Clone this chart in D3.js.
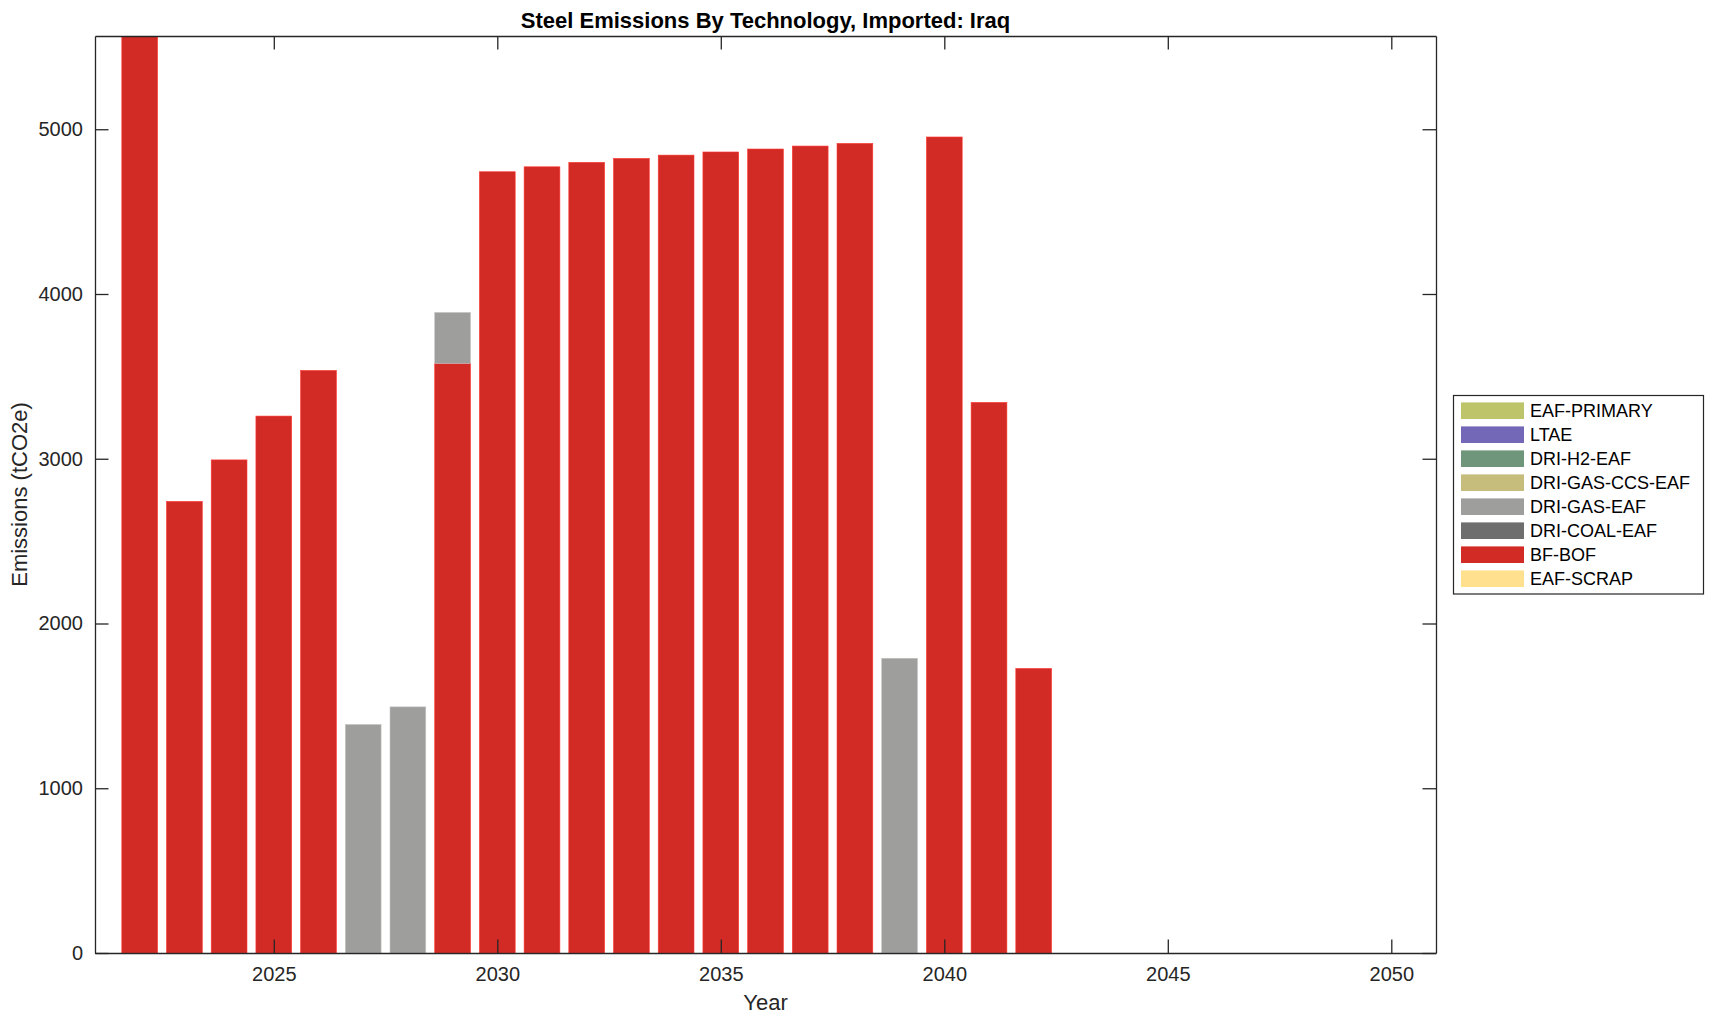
<!DOCTYPE html>
<html>
<head>
<meta charset="utf-8">
<script src="https://cdn.jsdelivr.net/npm/d3@7/dist/d3.min.js"></script>
<style>
  html, body { margin: 0; padding: 0; background: #fff; }
  svg { display: block; font-family: "Liberation Sans", Arial, Helvetica, sans-serif; }
</style>
</head>
<body>
<svg id="chart" width="1714" height="1021"></svg>
<script>
// ---- Data ----
const years = [2022,2023,2024,2025,2026,2027,2028,2029,2030,2031,2032,2033,2034,2035,2036,2037,2038,2039,2040,2041,2042,2043,2044,2045,2046,2047,2048,2049,2050];
const eafScrap   = [0,0,0,0,0,0,0,0,0,0,0,0,0,0,0,0,0,0,0,0,0,0,0,0,0,0,0,0,0];
const bfBof      = [5566,2741,2993,3259,3536,0,0,3579,4742,4772,4799,4823,4843,4862,4880,4898,4914,0,4953,3342,1727,0,0,0,0,0,0,0,0];
const driCoalEaf = [0,0,0,0,0,0,0,0,0,0,0,0,0,0,0,0,0,0,0,0,0,0,0,0,0,0,0,0,0];
const driGasEaf  = [0,0,0,0,0,1387,1494,309,0,0,0,0,0,0,0,0,0,1789,0,0,0,0,0,0,0,0,0,0,0];
const driGasCcsEaf = [0,0,0,0,0,0,0,0,0,0,0,0,0,0,0,0,0,0,0,0,0,0,0,0,0,0,0,0,0];
const driH2Eaf   = [0,0,0,0,0,0,0,0,0,0,0,0,0,0,0,0,0,0,0,0,0,0,0,0,0,0,0,0,0];
const ltae       = [0,0,0,0,0,0,0,0,0,0,0,0,0,0,0,0,0,0,0,0,0,0,0,0,0,0,0,0,0];
const eafPrimary = [0,0,0,0,0,0,0,0,0,0,0,0,0,0,0,0,0,0,0,0,0,0,0,0,0,0,0,0,0];

// stacking order bottom -> top
const seriesNames  = ["EAF-SCRAP","BF-BOF","DRI-COAL-EAF","DRI-GAS-EAF","DRI-GAS-CCS-EAF","DRI-H2-EAF","LTAE","EAF-PRIMARY"];
const seriesValues = [eafScrap, bfBof, driCoalEaf, driGasEaf, driGasCcsEaf, driH2Eaf, ltae, eafPrimary];
const seriesColors = ["#FEE08E","#D22B26","#6E6E6E","#9E9E9C","#C6BC7C","#6F967A","#7368B8","#BDC46A"];

const xTicks = [2025,2030,2035,2040,2045,2050];
const yTicks = [0,1000,2000,3000,4000,5000];
const xDomain = [2021, 2051];
const yDomain = [0, 5566];

const titleText = "Steel Emissions By Technology, Imported: Iraq";
const xLabel = "Year";
const yLabel = "Emissions (tCO2e)";

// ---- Layout ----
const svg = d3.select("#chart");
const L = 95, R = 1436, T = 36, B = 953;
const ink = "#262626";
const tickLen = 13.5;

const x = d3.scaleLinear().domain(xDomain).range([L, R]);
const y = d3.scaleLinear().domain(yDomain).range([B, T]);

// stacked data
const rows = years.map((yr, i) => {
  const r = { year: yr };
  seriesNames.forEach((n, k) => r[n] = seriesValues[k][i]);
  return r;
});
const stack = d3.stack().keys(seriesNames)(rows);

const clip = svg.append("defs").append("clipPath").attr("id", "plotclip")
  .append("rect").attr("x", L).attr("y", T).attr("width", R - L).attr("height", B - T);

const barW = 0.8;
const gBars = svg.append("g").attr("clip-path", "url(#plotclip)");
stack.forEach((layer, k) => {
  gBars.selectAll(null)
    .data(layer.filter(d => d[1] - d[0] > 0))
    .enter().append("rect")
    .attr("x", d => x(d.data.year - barW / 2))
    .attr("width", d => x(d.data.year + barW / 2) - x(d.data.year - barW / 2))
    .attr("y", d => y(d[1]))
    .attr("height", d => y(d[0]) - y(d[1]))
    .attr("fill", seriesColors[k])
    .attr("stroke", d3.color(seriesColors[k]).brighter(0.6))
    .attr("stroke-width", 0.6);
});

// axes (box with mirrored inward ticks)
const axB = d3.axisBottom(x).tickValues(xTicks).tickFormat(d3.format("d")).tickSizeInner(-tickLen).tickSizeOuter(0).tickPadding(14);
const axT = d3.axisTop(x).tickValues(xTicks).tickFormat("").tickSizeInner(-tickLen).tickSizeOuter(0);
const axL = d3.axisLeft(y).tickValues(yTicks).tickFormat(d3.format("d")).tickSizeInner(-tickLen).tickSizeOuter(0).tickPadding(12);
const axR = d3.axisRight(y).tickValues(yTicks).tickFormat("").tickSizeInner(-tickLen).tickSizeOuter(0);

function style(g) {
  g.selectAll("path.domain").attr("stroke", ink).attr("stroke-width", 1.3);
  g.selectAll(".tick line").attr("stroke", ink).attr("stroke-width", 1.3);
  g.selectAll(".tick text").attr("fill", ink).style("font-size", "20px")
    .style("font-family", "'Liberation Sans', Arial, Helvetica, sans-serif");
}
svg.append("g").attr("transform", `translate(0,${B})`).call(axB).call(style);
svg.append("g").attr("transform", `translate(0,${T})`).call(axT).call(style);
svg.append("g").attr("transform", `translate(${L},0)`).call(axL).call(style);
svg.append("g").attr("transform", `translate(${R},0)`).call(axR).call(style);

// title & labels
svg.append("text").attr("x", (L + R) / 2).attr("y", 28).attr("text-anchor", "middle")
  .style("font-size", "22px").style("font-weight", "bold").attr("fill", "#000").text(titleText);
svg.append("text").attr("x", (L + R) / 2).attr("y", 1010).attr("text-anchor", "middle")
  .style("font-size", "22px").attr("fill", ink).text(xLabel);
svg.append("text").attr("transform", `translate(27,${(T + B) / 2}) rotate(-90)`).attr("text-anchor", "middle")
  .style("font-size", "22px").attr("fill", ink).text(yLabel);

// legend (top of stack first)
const lg = svg.append("g");
lg.append("rect").attr("x", 1453.5).attr("y", 395.5).attr("width", 250).attr("height", 198.5)
  .attr("fill", "#fff").attr("stroke", ink).attr("stroke-width", 1.2);
const legendOrder = d3.range(seriesNames.length).reverse();
legendOrder.forEach((k, i) => {
  const cy = 410.7 + i * 24;
  lg.append("rect").attr("x", 1461).attr("y", cy - 8.3).attr("width", 63).attr("height", 16.6)
    .attr("fill", seriesColors[k]);
  lg.append("text").attr("x", 1530).attr("y", cy + 6.5).style("font-size", "18px").attr("fill", "#000")
    .text(seriesNames[k]);
});
</script>
</body>
</html>
